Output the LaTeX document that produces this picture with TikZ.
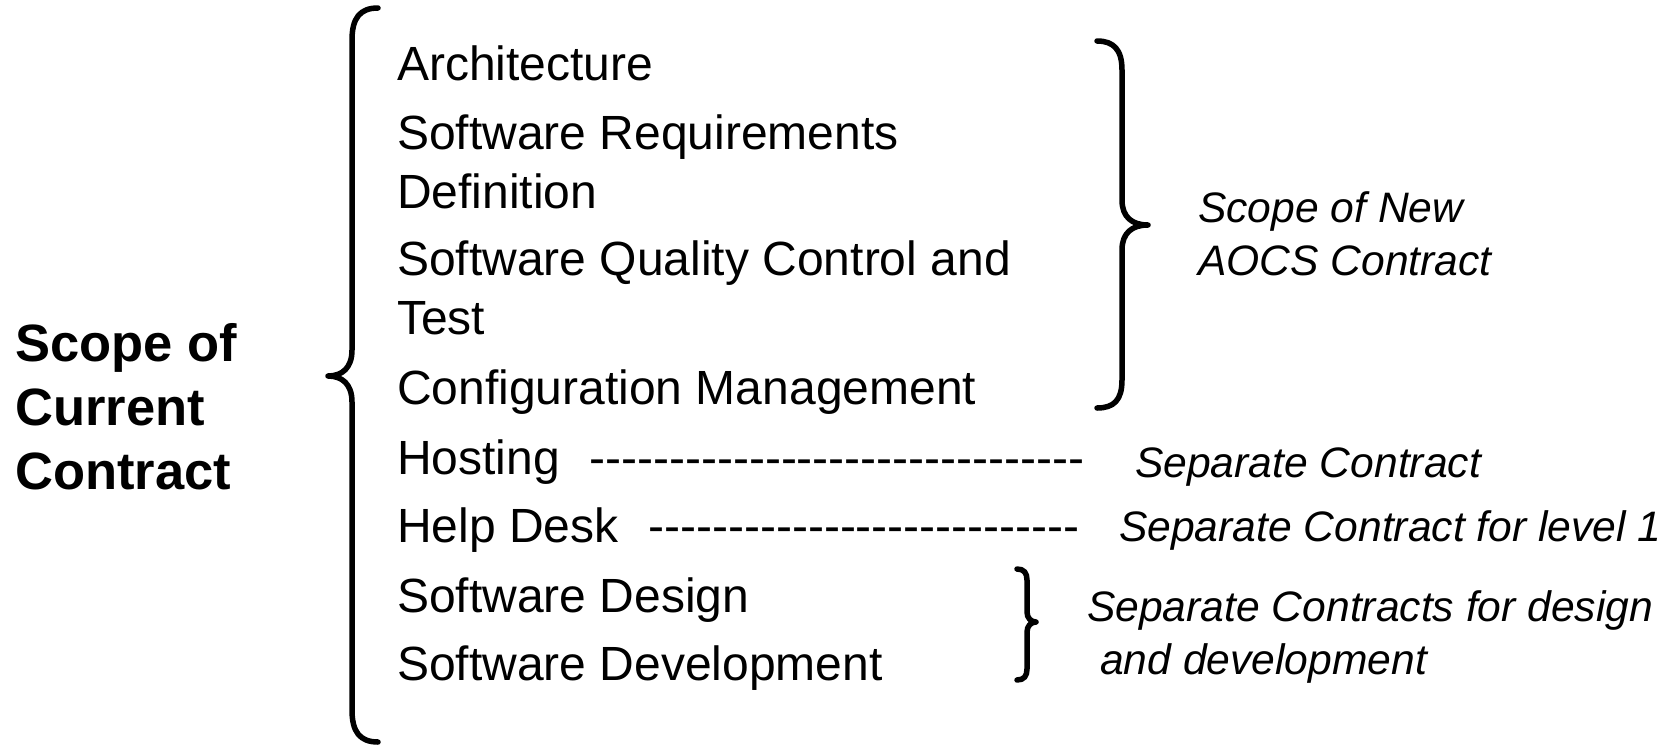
\documentclass[tikz,border=0pt]{standalone}
\usepackage{fontspec}
\setmainfont{Liberation Sans}
\newfontfamily\rawfont{Liberation Sans}[Ligatures=TeXOff]
\begin{document}
\begin{tikzpicture}[x=1pt,y=-1pt,
  item/.style={anchor=base west,inner sep=0pt,font=\fontsize{48}{58}\selectfont},
  lead/.style={anchor=base west,inner sep=0pt,font=\fontsize{52.5}{64}\selectfont\bfseries,align=left},
  note/.style={anchor=base west,inner sep=0pt,font=\fontsize{42.6}{52}\selectfont\itshape},
  dashtxt/.style={anchor=base west,inner sep=0pt,font=\rawfont\fontsize{48}{58}\selectfont},
  bracestroke/.style={line width=5.5pt,line cap=round,line join=round}]
\useasboundingbox (0,0) rectangle (1674,745);
% left label
\node[lead] (sc1) at (15,361) {Scope of};
\node[lead] (sc2) at (15,425) {Current};
\node[lead] (sc3) at (15,489) {Contract};
% big left brace
\draw[bracestroke] (378,8) .. controls (360,8) and (352,18) .. (352,40) -- (352,350)
  .. controls (352,368) and (342,376) .. (328,376)
  .. controls (342,376) and (352,384) .. (352,402) -- (352,710)
  .. controls (352,732) and (360,742) .. (378,742);
% items
\node[item] (i1) at (397,80) {Architecture};
\node[item] (i2) at (397,149) {Software Requirements};
\node[item] (i2b) at (397,208) {Definition};
\node[item] (i3) at (397,275) {Software Quality Control and};
\node[item] (i3b) at (397,334) {Test};
\node[item] (i4) at (397,404) {Configuration Management};
\node[item] (i5) at (397,474) {Hosting};
\node[item] (i6) at (397,542) {Help Desk};
\node[item] (i7) at (397,612) {Software Design};
\node[item] (i8) at (397,680) {Software Development};
% dashes
\node[dashtxt] (d1) at (589,474) {-------------------------------};
\node[dashtxt] (d2) at (648,542) {---------------------------};
% AOCS brace
\draw[bracestroke] (1097,41) .. controls (1114,41) and (1122,50) .. (1122,70) -- (1122,200)
  .. controls (1122,217) and (1132,225) .. (1148,225)
  .. controls (1132,225) and (1122,233) .. (1122,250) -- (1122,380)
  .. controls (1122,400) and (1114,408) .. (1097,408);
% small brace
\draw[bracestroke] (1017,569) .. controls (1024,569) and (1027,573) .. (1027,580) -- (1027,612)
  .. controls (1027,618) and (1031,622) .. (1036,622)
  .. controls (1031,622) and (1027,626) .. (1027,632) -- (1027,669)
  .. controls (1027,676) and (1024,680) .. (1017,680);
% notes
\node[note] (n1) at (1198,222) {Scope of New};
\node[note] (n1b) at (1198,275) {AOCS Contract};
\node[note] (n2) at (1135,477) {Separate Contract};
\node[note] (n3) at (1119,541) {Separate Contract for level 1};
\node[note] (n4) at (1087,621) {Separate Contracts for design};
\node[note] (n4b) at (1100,674) {and development};
\end{tikzpicture}
\end{document}
